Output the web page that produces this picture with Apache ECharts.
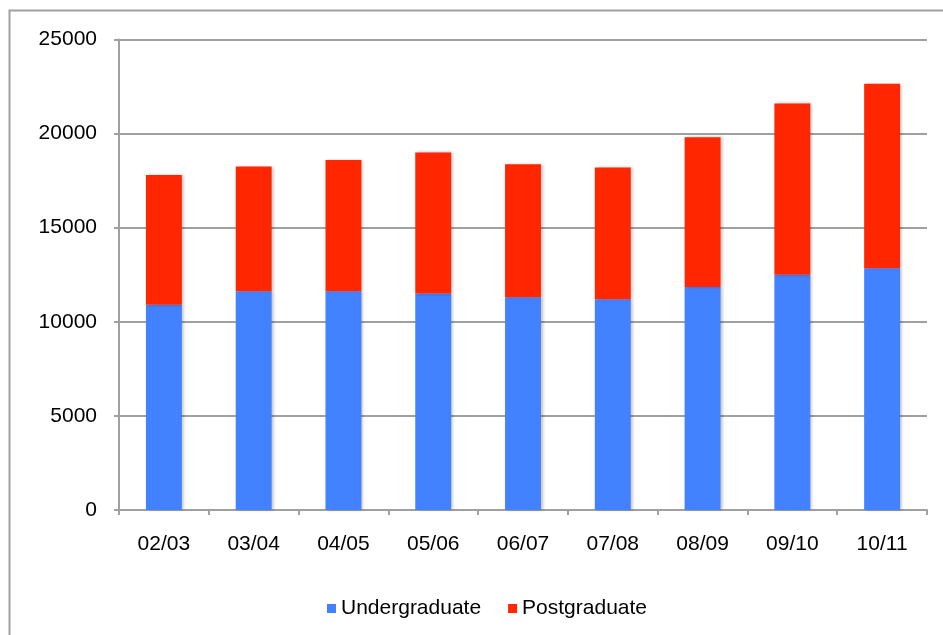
<!DOCTYPE html>
<html>
<head>
<meta charset="utf-8">
<script src="https://cdn.jsdelivr.net/npm/echarts@6.0.0/dist/echarts.min.js"></script>
<style>
  html, body { margin: 0; padding: 0; background: #fff; }
  #students { width: 943px; height: 635px; }
</style>
</head>
<body>
<div id="students"></div>
<script>
// 学年
var years = ['02/03', '03/04', '04/05', '05/06', '06/07', '07/08', '08/09', '09/10', '10/11'];
// 本科生
var undergraduate = [10900, 11620, 11620, 11500, 11300, 11200, 11850, 12500, 12850];
// 研究生
var postgraduate = [6900, 6630, 6980, 7500, 7070, 7000, 7950, 9100, 9800];
// 纵轴刻度
var yTicks = [0, 5000, 10000, 15000, 20000, 25000];

var dom = document.getElementById("students");
var myChart = echarts.init(dom);
var font = '"Liberation Sans", Helvetica, Arial, sans-serif';
var gray = '#a0a0a0';
var barShadow = {
    shadowBlur: 3,
    shadowColor: 'rgba(0,0,0,0.25)',
    shadowOffsetX: 2,
    shadowOffsetY: 0
};

var option = null;
option = {
    animation: false,
    backgroundColor: '#fff',
    textStyle: { fontFamily: font, color: '#000' },
    // 外框
    graphic: [{
        type: 'rect',
        shape: { x: 9.5, y: 10.5, width: 1000, height: 700 },
        style: { fill: 'none', stroke: gray, lineWidth: 2 },
        silent: true
    }],
    grid: { left: 119, top: 39.5, right: 16, bottom: 125 },
    legend: {
        data: ['Undergraduate', 'Postgraduate'],
        left: 322,
        top: 593,
        icon: 'rect',
        itemWidth: 9,
        itemHeight: 9,
        itemGap: 27,
        textStyle: { fontFamily: font, fontSize: 21, color: '#000' }
    },
    xAxis: {
        type: 'category',
        data: years,
        axisLine: { lineStyle: { color: gray, width: 2 } },
        axisTick: { show: true, length: 5, lineStyle: { color: gray, width: 2 } },
        axisLabel: { fontFamily: font, fontSize: 21, color: '#000', margin: 24 }
    },
    yAxis: {
        type: 'value',
        min: yTicks[0],
        max: yTicks[yTicks.length - 1],
        interval: yTicks[1] - yTicks[0],
        axisLine: { show: true, lineStyle: { color: gray, width: 2 } },
        axisTick: { show: true, length: 5, lineStyle: { color: gray, width: 2 } },
        splitLine: { lineStyle: { color: gray, width: 2 } },
        axisLabel: {
            fontFamily: font, fontSize: 21, color: '#000', margin: 22,
            formatter: function (v) { return String(v); }
        }
    },
    series: [
        {
            name: 'Undergraduate',
            type: 'bar',
            stack: 'total',
            barWidth: '40%',
            data: undergraduate,
            itemStyle: Object.assign({ color: '#4281ff' }, barShadow)
        },
        {
            name: 'Postgraduate',
            type: 'bar',
            stack: 'total',
            barWidth: '40%',
            data: postgraduate,
            itemStyle: Object.assign({ color: '#ff2600' }, barShadow)
        }
    ]
};

if (option && typeof option === "object") {
    myChart.setOption(option, true);
}
</script>
</body>
</html>
